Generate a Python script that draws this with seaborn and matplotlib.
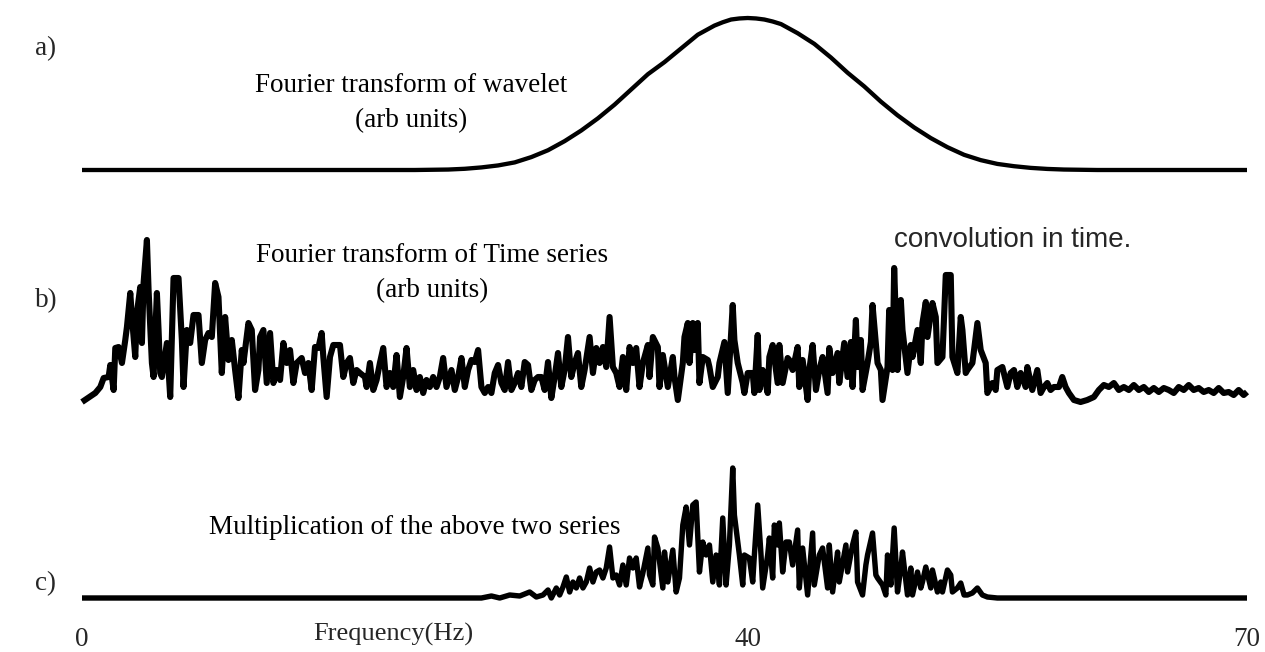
import matplotlib
matplotlib.use("Agg")
import matplotlib.pyplot as plt
import seaborn as sns

# --- a) Fourier transform of the wavelet (arb units) ---
a_freq = [0, 20, 22, 23, 24, 25, 26, 27, 28, 29, 30, 31, 32, 33, 34, 35, 36, 37,
          37.5, 38, 38.5, 39, 39.5, 40, 40.5, 41, 41.5, 42, 42.5,
          43, 44, 45, 46, 47, 48, 49, 50, 51, 52, 53, 54, 55, 56, 57, 58, 59, 61, 70]
a_amp = [0, 0, 0.003, 0.008, 0.017, 0.03, 0.05, 0.085, 0.13, 0.19, 0.26, 0.34, 0.43, 0.53,
         0.63, 0.71, 0.80, 0.89,
         0.92, 0.95, 0.972, 0.99, 0.997, 1.0, 0.997, 0.99, 0.977, 0.96, 0.93,
         0.90, 0.83, 0.74, 0.64, 0.55, 0.45, 0.36, 0.28, 0.21, 0.15, 0.10, 0.065, 0.04,
         0.025, 0.014, 0.007, 0.003, 0, 0]

# --- b) Fourier transform of the time series (arb units) ---
b_freq = [0.0, 0.8, 1.1, 1.3, 1.6, 1.7, 1.9, 2.0, 2.2, 2.4, 2.6, 2.7, 2.9, 3.0, 3.2, 3.3, 3.5,
          3.6, 3.7, 3.9, 4.0, 4.2, 4.3, 4.5, 4.6, 4.7, 4.8, 5.1, 5.3, 5.5, 5.8, 6.0, 6.1, 6.3,
          6.5, 6.7, 7.0, 7.2, 7.4, 7.6, 7.8, 8.0, 8.2, 8.4, 8.6, 8.8, 9.0, 9.2, 9.4, 9.6, 9.7,
          10.0, 10.2, 10.4, 10.6, 10.7, 10.9, 11.1, 11.3, 11.5, 11.7, 11.9, 12.1, 12.3, 12.5,
          12.7, 12.9, 13.2, 13.4, 13.6, 13.8, 14.0, 14.2, 14.4, 14.5, 14.7, 14.9, 15.1, 15.3,
          15.5, 15.7, 15.9, 16.1, 16.3, 16.5, 16.7, 17.0, 17.1, 17.3, 17.5, 17.7, 17.9, 18.1,
          18.3, 18.5, 18.7, 18.9, 19.1, 19.3, 19.5, 19.7, 19.9, 20.1, 20.3, 20.5, 20.7, 20.9,
          21.1, 21.3, 21.5, 21.7, 21.9, 22.2, 22.4, 22.6, 22.8, 23.0, 23.2, 23.4, 23.6, 23.8,
          24.0, 24.2, 24.4, 24.6, 24.8, 25.0, 25.2, 25.4, 25.6, 25.8, 26.0, 26.2, 26.4, 26.6,
          26.8, 27.0, 27.2, 27.4, 27.6, 27.8, 28.0, 28.2, 28.4, 28.6, 28.8, 29.0, 29.2, 29.4,
          29.6, 29.8, 30.0, 30.2, 30.5, 30.7, 30.9, 31.1, 31.3, 31.5, 31.7, 31.9, 32.1, 32.3,
          32.5, 32.7, 32.9, 33.1, 33.3, 33.5, 33.7, 34.0, 34.1, 34.3, 34.6, 34.7, 34.9, 35.2,
          35.5, 35.6, 35.8, 36.1, 36.2, 36.4, 36.5, 36.7, 36.8, 37.0, 37.1, 37.3, 37.6, 37.7,
          37.9, 38.2, 38.3, 38.6, 38.8, 38.9, 39.1, 39.2, 39.4, 39.7, 39.8, 40.0, 40.3, 40.4,
          40.6, 40.7, 40.9, 41.2, 41.3, 41.5, 41.8, 41.9, 42.1, 42.4, 42.5, 42.7, 43.0, 43.1,
          43.3, 43.6, 43.7, 43.9, 44.1, 44.3, 44.5, 44.8, 44.9, 45.1, 45.4, 45.5, 45.8, 46.0,
          46.2, 46.3, 46.5, 46.6, 46.8, 46.9, 47.2, 47.4, 47.5, 47.8, 48.0, 48.1, 48.4, 48.5,
          48.7, 48.8, 49.0, 49.2, 49.3, 49.6, 49.8, 49.9, 50.2, 50.4, 50.5, 50.7, 50.8, 51.1,
          51.3, 51.4, 51.7, 51.9, 52.2, 52.3, 52.6, 52.8, 52.9, 53.1, 53.2, 53.5, 53.6, 53.8,
          54.0, 54.3, 54.4, 54.7, 54.9, 55.0, 55.3, 55.6, 55.8, 56.0, 56.2, 56.4, 56.7, 56.8,
          57.1, 57.4, 57.6, 57.8, 58.0, 58.2, 58.4, 58.7, 58.9, 59.1, 59.3, 59.6, 60.0, 60.4,
          60.8, 61.1, 61.4, 61.7, 62.0, 62.3, 62.6, 62.9, 63.2, 63.5, 63.8, 64.1, 64.4, 64.7,
          65.0, 65.3, 65.6, 65.9, 66.2, 66.5, 66.8, 67.1, 67.4, 67.7, 68.0, 68.3, 68.6, 68.9,
          69.2, 69.5, 69.8, 70.0]
b_amp = [0.0, 0.9, 1.5, 2.4, 2.5, 3.7, 1.2, 5.4, 5.5, 3.9, 6.2, 7.5, 10.9, 8.5, 4.5, 8.9, 11.5,
         5.9, 11.9, 16.2, 11.2, 3.9, 2.5, 10.9, 7.2, 2.9, 2.5, 5.9, 0.5, 12.4, 12.4, 6.2, 1.5, 7.2,
         5.9, 8.7, 8.7, 3.9, 6.2, 6.9, 6.5, 11.9, 10.5, 2.9, 8.5, 4.2, 6.2, 3.2, 0.4, 5.2, 3.9,
         7.9, 7.2, 1.2, 3.2, 6.5, 7.2, 1.9, 6.9, 1.9, 3.2, 2.2, 5.9, 3.9, 5.2,
         1.9, 3.9, 4.4, 2.9, 3.9, 1.2, 5.5, 5.4, 6.9, 4.5, 0.5, 4.5, 5.7, 5.7,
         5.7, 2.5, 3.9, 4.4, 1.9, 3.2, 2.9, 2.5, 1.5, 3.9, 1.2, 2.2, 3.9, 5.4,
         1.5, 2.9, 1.5, 4.7, 0.5, 2.5, 5.4, 1.5, 3.2, 1.2, 2.5, 0.9, 2.2, 1.5,
         2.5, 1.5, 2.5, 4.4, 1.5, 3.2, 1.2, 2.5, 4.4, 1.5, 3.2, 4.2, 4.0, 5.2,
         1.5, 0.9, 1.5, 0.9, 2.9, 3.7, 1.9, 1.2, 4.0, 1.2, 1.9, 2.9, 1.5, 4.0,
         3.7, 1.2, 2.2, 2.5, 2.5, 1.2, 4.0, 0.4, 2.5, 4.9, 1.5, 3.2, 6.5, 2.5,
         3.9, 4.9, 1.5, 3.2, 6.5, 2.9, 5.4, 3.9, 5.5, 3.5, 8.5, 3.5, 2.9, 1.5,
         4.5, 1.2, 5.5, 3.9, 5.4, 1.5, 3.9, 5.7, 2.5, 6.5, 5.5, 1.5, 4.7, 1.5,
         4.5, 2.5, 0.2, 3.9, 6.5, 7.9, 3.9, 7.9, 5.2, 7.9, 1.9, 4.5, 4.2, 3.5,
         1.5, 2.5, 3.9, 6.0, 0.9, 3.9, 9.7, 6.2, 3.9, 1.9, 0.9, 2.9, 2.9, 0.9,
         6.7, 1.2, 3.2, 0.9, 4.5, 5.7, 1.9, 5.7, 1.9, 4.4, 4.2, 3.2, 5.5, 1.5,
         4.2, 0.2, 3.2, 5.7, 1.2, 3.2, 4.5, 0.9, 5.4, 2.9, 4.9, 1.9, 5.9, 2.5,
         6.0, 1.5, 8.2, 3.5, 6.2, 1.2, 3.9, 6.0, 9.7, 3.9, 3.2, 0.2, 3.5, 9.2,
         3.2, 13.4, 3.2, 10.2, 7.2, 2.9, 5.7, 4.5, 7.2, 3.9, 7.9, 10.0, 6.5, 9.9,
         8.5, 3.9, 4.5, 12.7, 12.7, 4.5, 2.9, 8.5, 7.2, 2.9, 3.2, 3.9, 5.2, 7.9,
         5.2, 3.9, 0.9, 1.9, 1.2, 3.2, 3.5, 1.5, 2.9, 3.2, 1.5, 2.9, 1.5, 3.5,
         1.2, 3.2, 0.9, 1.5, 1.9, 1.2, 1.5, 1.5, 2.5, 1.5, 0.9, 0.2, 0.0, 0.2,
         0.5, 1.2, 1.7, 1.5, 1.9, 1.2, 1.5, 1.2, 1.7, 1.2, 1.5, 1.0, 1.4, 1.0,
         1.4, 1.2, 0.9, 1.5, 1.2, 1.7, 1.2, 1.4, 1.0, 1.2, 0.9, 1.4, 0.9, 1.0,
         0.7, 1.2, 0.7, 1.0]

# --- c) product of the two spectra above ---
c_freq = [0.0, 24.0, 24.6, 25.1, 25.7, 26.3, 26.9, 27.3, 27.7, 28.0, 28.2, 28.5, 28.7, 28.9,
          29.1, 29.3, 29.5, 29.7, 29.9, 30.1, 30.3, 30.5, 30.7, 30.9, 31.1, 31.3, 31.5, 31.7,
          31.9, 32.1, 32.3, 32.5, 32.7, 32.9, 33.1, 33.3, 33.5, 33.7, 34.0, 34.1, 34.3, 34.4,
          34.6, 34.9, 35.0, 35.2, 35.5, 35.7, 35.9, 36.1, 36.3, 36.5, 36.7, 36.9, 37.1, 37.3,
          37.5, 37.7, 37.9, 38.1, 38.3, 38.5, 38.7, 38.9, 39.1, 39.2, 39.5, 39.7, 39.8, 40.1,
          40.3, 40.4, 40.6, 40.8, 40.9, 41.2, 41.3, 41.5, 41.6, 41.8, 41.9, 42.1, 42.3, 42.5,
          42.7, 43.0, 43.1, 43.3, 43.6, 43.9, 44.0, 44.3, 44.5, 44.8, 44.9, 45.1, 45.4, 45.5,
          45.9, 46.0, 46.3, 46.5, 46.6, 46.9, 47.1, 47.2, 47.5, 47.7, 47.8, 48.1, 48.3, 48.4,
          48.6, 48.8, 49.0, 49.2, 49.3, 49.6, 49.8, 49.9, 50.2, 50.4, 50.5, 50.7, 51.0, 51.1,
          51.4, 51.6, 51.7, 52.0, 52.2, 52.3, 52.6, 52.8, 53.0, 53.2, 53.5, 53.8, 54.1, 54.4,
          55.0, 70.0]
c_amp = [0.0, 0.0, 0.2, 0.0, 0.3, 0.2, 0.6, 0.1, 0.3, 0.8, 0.0, 1.0, 0.3, 1.1,
         2.1, 0.6, 1.6, 1.0, 2.0, 1.0, 1.6, 3.0, 1.6, 2.6, 2.8, 2.0, 3.0, 5.1,
         2.0, 2.3, 1.3, 3.3, 1.3, 4.0, 3.0, 4.0, 1.1, 2.5, 5.0, 2.3, 1.3, 6.1,
         5.0, 1.0, 4.6, 1.6, 4.8, 0.6, 2.0, 7.3, 9.1, 5.3, 9.3, 9.6, 2.6, 5.6,
         4.3, 5.3, 1.6, 4.3, 1.3, 8.0, 1.3, 5.3, 13.0, 8.3, 4.3, 1.3, 4.3, 4.0,
         1.6, 4.3, 9.3, 4.3, 1.0, 4.3, 6.0, 2.0, 7.3, 5.3, 7.5, 2.6, 5.6, 5.6,
         3.3, 6.8, 1.0, 5.0, 0.3, 6.5, 1.3, 4.3, 5.0, 1.0, 5.3, 0.6, 4.6, 1.6,
         5.3, 2.6, 5.3, 6.6, 1.6, 0.3, 3.3, 4.3, 6.5, 2.3, 2.0, 1.3, 0.3, 4.3,
         1.3, 7.0, 0.6, 3.0, 4.6, 0.3, 3.0, 0.3, 2.6, 1.0, 1.6, 3.1, 1.0, 2.8,
         0.6, 1.6, 0.6, 2.8, 2.3, 0.6, 1.0, 1.5, 0.3, 0.3, 0.5, 1.0, 0.3, 0.1,
         0.0, 0.0]

tick_values = [0, 40, 70]
tick_labels = ["0", "40", "70"]

sns.set_theme(style="white")
plt.rcParams["font.family"] = ["Liberation Serif", "DejaVu Serif"]

W, H = 1265, 652
fig = plt.figure(figsize=(W / 100, H / 100), dpi=100)
fig.patch.set_facecolor("white")


def px_axes(left, right, bottom, top):
    """Axes placed by pixel edges (origin top-left)."""
    return fig.add_axes([left / W, 1 - bottom / H, (right - left) / W, (bottom - top) / H])


def fig_text(x, y, s, **kw):
    fig.text(x / W, 1 - y / H, s, **kw)


ax_a = px_axes(82, 1247, 170, 18)
ax_b = px_axes(82, 1247, 402, 240)
ax_c = px_axes(82, 1247, 598, 468)

series = [(ax_a, a_freq, a_amp, 3.1, (0, 1.0)),
          (ax_b, b_freq, b_amp, 4.4, (0, 16.2)),
          (ax_c, c_freq, c_amp, 3.9, (0, 13.0))]

for ax, xs, ys, lw, ylim in series:
    sns.lineplot(x=xs, y=ys, ax=ax, color="black", linewidth=lw,
                 estimator=None, sort=False, legend=False)
    for ln in ax.lines:
        ln.set_clip_on(False)
        ln.set_solid_joinstyle("round")
        ln.set_solid_capstyle("butt")
    ax.set_xlim(0, 70)
    ax.set_ylim(*ylim)
    ax.set_facecolor("none")
    for sp in ax.spines.values():
        sp.set_visible(False)
    ax.set_yticks([])
    ax.set_xlabel("")
    ax.set_ylabel("")

ax_a.set_xticks([])
ax_b.set_xticks([])

ax_c.set_xticks(tick_values)
ax_c.set_xticklabels(tick_labels, fontsize=19.5)
ax_c.tick_params(axis="x", length=0, pad=21)
ax_c.set_xlabel("Frequency(Hz)", fontsize=19)
ax_c.xaxis.set_label_coords((393 - 82) / 1165, -(634 - 598) / 130)
ax_c.xaxis.label.set_va("center")

serif = dict(fontsize=19.5, ha="center", va="center", color="black")
fig_text(46, 49, "a)", fontsize=19.5, ha="center", va="center")
fig_text(46, 301, "b)", fontsize=19.5, ha="center", va="center")
fig_text(46, 584, "c)", fontsize=19.5, ha="center", va="center")

fig_text(411, 86, "Fourier transform of wavelet", **serif)
fig_text(411, 121, "(arb units)", **serif)
fig_text(432, 256, "Fourier transform of Time series", **serif)
fig_text(432, 291, "(arb units)", **serif)
fig_text(415, 528, "Multiplication of the above two series", **serif)
fig_text(1013, 240, "convolution in time.", fontsize=20, ha="center", va="center",
         family=["Liberation Sans", "DejaVu Sans"])

fig.savefig("out.png", dpi=100, facecolor="white")
